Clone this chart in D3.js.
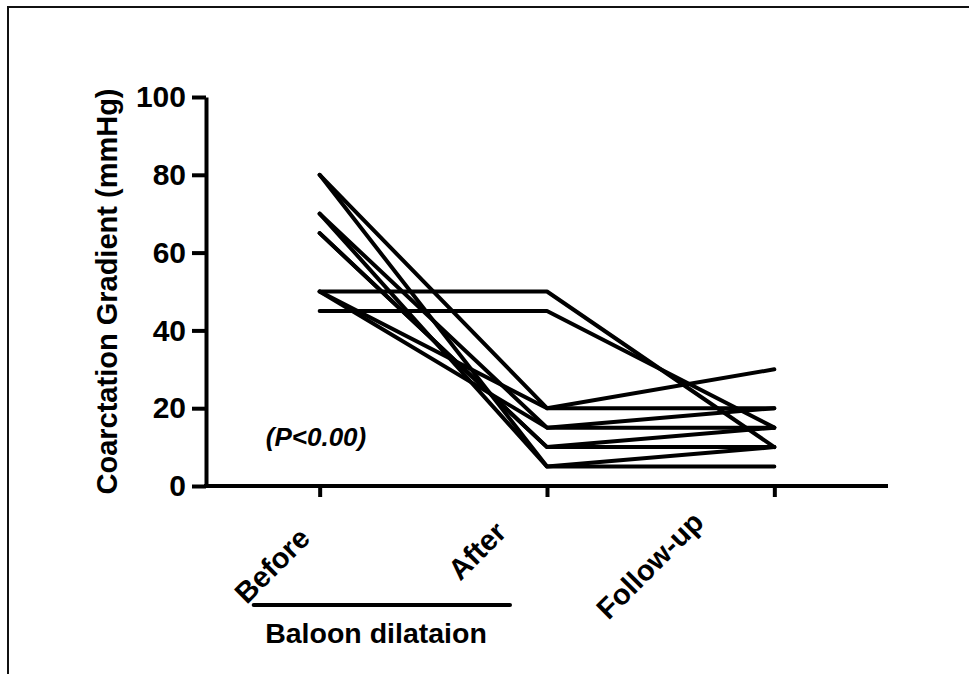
<!DOCTYPE html>
<html>
<head>
<meta charset="utf-8">
<script src="https://cdn.jsdelivr.net/npm/d3@7"></script>
<style>
  body { margin: 0; background: #fff; }
  svg { display: block; }
  .axis path, .axis line { stroke: #000; stroke-width: 4; }
  .axis text { font-family: "Liberation Sans", Arial, sans-serif; font-weight: bold; fill: #000; }
</style>
</head>
<body>
<div id="chart"></div>
<script>
// time points on the x axis
const phases = ['Before', 'After', 'Follow-up'];
// y axis ticks
const yTicks = [0, 20, 40, 60, 80, 100];
// coarctation gradient (mmHg) per patient
const beforeVals   = [80, 80, 70, 70, 65, 65, 50, 50, 50, 45];
const afterVals    = [20,  5, 15,  5, 10, 10, 20, 15, 50, 45];
const followUpVals = [30, 10, 20,  5, 15, 10, 20, 15, 10, 15];

const patients = beforeVals.map((b, i) => [b, afterVals[i], followUpVals[i]]);

const width = 969, height = 674;
const font = '"Liberation Sans", Arial, sans-serif';

const svg = d3.select('#chart').append('svg')
    .attr('width', width)
    .attr('height', height);

// frame lines (top and left only)
svg.append('line')
    .attr('x1', 7).attr('x2', width).attr('y1', 7).attr('y2', 7)
    .attr('stroke', '#111').attr('stroke-width', 2);
svg.append('line')
    .attr('x1', 8).attr('x2', 8).attr('y1', 7).attr('y2', height)
    .attr('stroke', '#111').attr('stroke-width', 2);

const xScale = d3.scalePoint()
    .domain(phases)
    .range([206, 888])
    .padding(0.5);

const yScale = d3.scaleLinear()
    .domain([0, 100])
    .range([486, 97]);

// lines
const line = d3.line()
    .x((d, i) => xScale(phases[i]))
    .y(d => yScale(d));

svg.append('g')
    .selectAll('path')
    .data(patients)
    .enter().append('path')
    .attr('d', line)
    .attr('fill', 'none')
    .attr('stroke', '#000')
    .attr('stroke-width', 4)
    .attr('stroke-linejoin', 'round')
    .attr('stroke-linecap', 'round');

// y axis
const yAxisG = svg.append('g')
    .attr('class', 'axis y-axis')
    .attr('transform', 'translate(206,0)')
    .call(d3.axisLeft(yScale).tickValues(yTicks).tickSize(14).tickSizeOuter(0).tickPadding(6));
yAxisG.selectAll('text').style('font-size', '30px');

// x axis
const xAxisG = svg.append('g')
    .attr('class', 'axis x-axis')
    .attr('transform', 'translate(0,486)')
    .call(d3.axisBottom(xScale).tickSize(11).tickSizeOuter(0).tickFormat(''));
xAxisG.select('.domain').attr('d', 'M204,0H888');

// rotated category labels, each nudged like the original
const labelNudge = [[-8, 54], [-39, 48], [-69, 38]];
svg.append('g')
    .selectAll('text')
    .data(phases)
    .enter().append('text')
    .attr('transform', (d, i) => `translate(${xScale(d) + labelNudge[i][0]},${486 + labelNudge[i][1]}) rotate(-45)`)
    .attr('text-anchor', 'end')
    .style('font-family', font)
    .style('font-weight', 'bold')
    .style('font-size', '29px')
    .text(d => d);

// bracket under the balloon dilatation phases
svg.append('line')
    .attr('x1', xScale('Before') - 66)
    .attr('x2', xScale('After') - 37)
    .attr('y1', 605).attr('y2', 605)
    .attr('stroke', '#000').attr('stroke-width', 4).attr('stroke-linecap', 'round');

svg.append('text')
    .attr('x', 376)
    .attr('y', 643)
    .attr('text-anchor', 'middle')
    .style('font-family', font)
    .style('font-weight', 'bold')
    .style('font-size', '28.5px')
    .text('Baloon dilataion');

// y axis title
svg.append('text')
    .attr('transform', `translate(117,${(97 + 486) / 2}) rotate(-90)`)
    .attr('text-anchor', 'middle')
    .style('font-family', font)
    .style('font-weight', 'bold')
    .style('font-size', '29px')
    .text('Coarctation Gradient (mmHg)');

// p value
svg.append('text')
    .attr('x', 316)
    .attr('y', 446)
    .attr('text-anchor', 'middle')
    .style('font-family', font)
    .style('font-weight', 'bold')
    .style('font-style', 'italic')
    .style('font-size', '26px')
    .text('(P<0.00)');
</script>
</body>
</html>
